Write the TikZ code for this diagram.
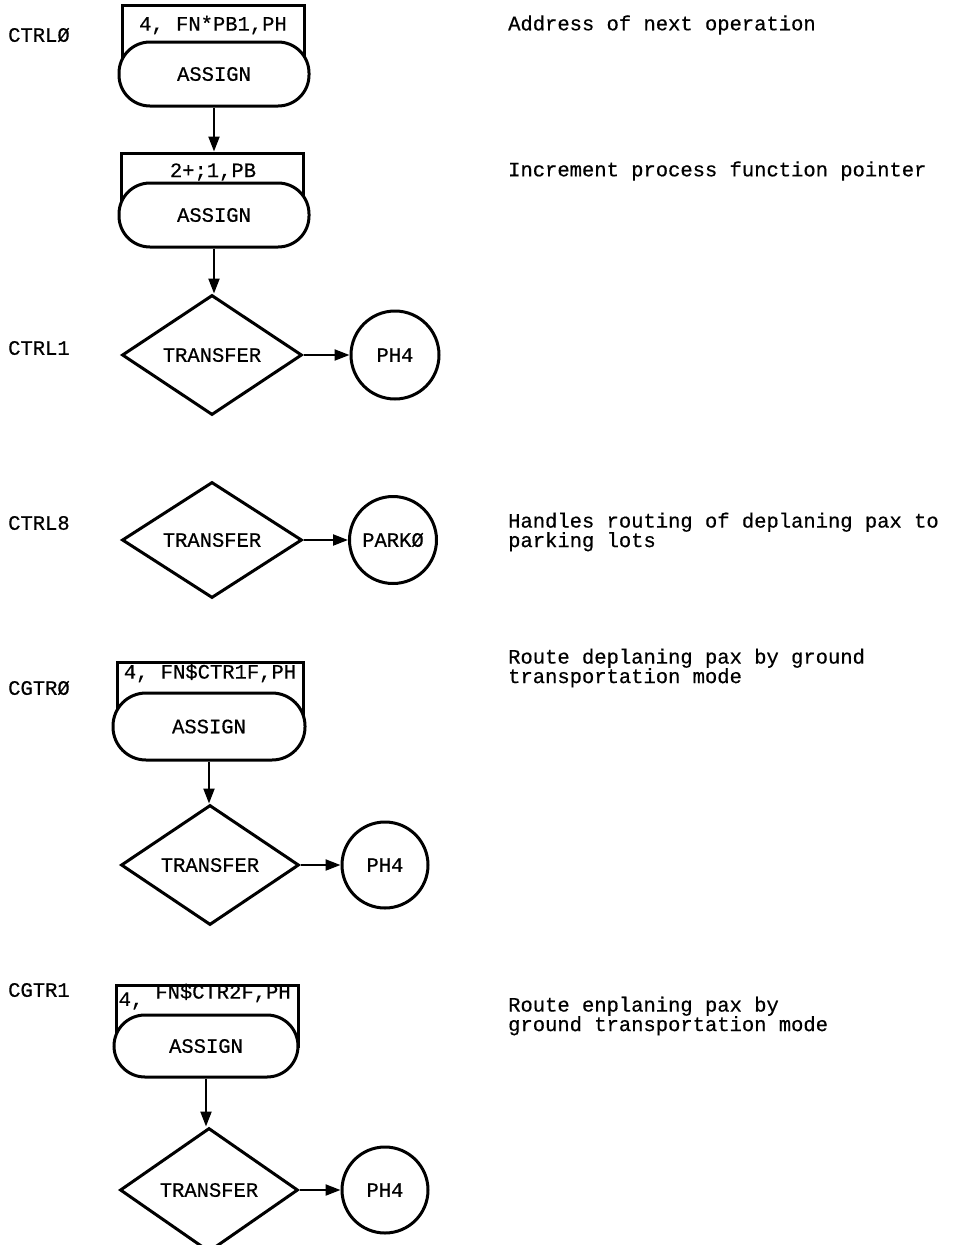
\documentclass[tikz,border=0pt]{standalone}
\usepackage{fontspec}
\setmainfont{Liberation Mono}
\setmonofont{Liberation Mono}
\newfontfamily\courfont[FakeBold=0.5]{Liberation Mono}
\usetikzlibrary{shapes.geometric,arrows.meta}
\tikzset{
  txt/.style={inner sep=0pt, font=\courfont\fontsize{20.5}{19.5}\selectfont},
  lbl/.style={txt, anchor=west},
  note/.style={txt, anchor=west, align=left},
  boxr/.style={draw, line width=3pt, inner sep=0pt, minimum width=#1},
  stad/.style={draw, fill=white, line width=3pt, inner sep=0pt, txt, rounded corners=31pt},
  dia/.style={diamond, draw, line width=3pt, inner sep=0pt, txt},
  circ/.style={circle, draw, line width=3pt, inner sep=0pt, txt},
  arr/.style={line width=2.2pt, -{Triangle[length=15pt,width=11pt]}}
}
\begin{document}
\begin{tikzpicture}[x=1pt,y=-1pt]
\useasboundingbox (0,0) rectangle (954,1245);
% left labels
\node[lbl] (lab0) at (8,35) {CTRLØ};
\node[lbl] (lab1) at (8,348) {CTRL1};
\node[lbl] (lab8) at (8,523) {CTRL8};
\node[lbl] (labg0) at (8,688) {CGTRØ};
\node[lbl] (labg1) at (8,990) {CGTR1};
% right notes
\node[note] (n1) at (508,25) {Address of next operation};
\node[note] (n2) at (508,171) {Increment process function pointer};
\node[note] (n3) at (508,532) {Handles routing of deplaning pax to\\parking lots};
\node[note] (n4) at (508,668) {Route deplaning pax by ground\\transportation mode};
\node[note] (n5) at (508,1016) {Route enplaning pax by\\ground transportation mode};

% Block CTRL0
\node[boxr=182pt, minimum height=70pt] (r1) at (213,40) {};
\node[txt] (t1) at (213,25) {4, FN*PB1,PH};
\node[stad, minimum width=190pt, minimum height=64pt] (s1) at (214,74) {ASSIGN};
% Block 2
\node[boxr=182pt, minimum height=70pt] (r2) at (212,188) {};
\node[txt] (t2) at (213,172) {2+;1,PB};
\node[stad, minimum width=190pt, minimum height=64pt] (s2) at (214,215) {ASSIGN};
\draw[arr] (s1.south) -- (s1.south |- r2.north);
% CTRL1
\node[dia, minimum width=180pt, minimum height=120pt] (d1) at (212,355) {TRANSFER};
\node[circ, minimum size=88pt] (c1) at (395,355) {PH4};
\draw[arr] (s2.south) -- (s2.south |- d1.north);
\draw[arr] (d1.east) -- (c1.west);
% CTRL8
\node[dia, minimum width=180pt, minimum height=116pt] (d2) at (212,540) {TRANSFER};
\node[circ, minimum size=87pt] (c2) at (393,540) {PARKØ};
\draw[arr] (d2.east) -- (c2.west);
% CGTR0
\node[boxr=186pt, minimum height=70pt] (r3) at (210,697) {};
\node[txt] (t3) at (210,673) {4, FN\$CTR1F,PH};
\node[stad, minimum width=192pt, minimum height=67pt, rounded corners=33pt] (s3) at (209,726.5) {ASSIGN};
\node[dia, minimum width=178pt, minimum height=120pt] (d3) at (210,865) {TRANSFER};
\node[circ, minimum size=86pt] (c3) at (385,865) {PH4};
\draw[arr] (s3.south) -- (s3.south |- d3.north);
\draw[arr] (d3.east) -- (c3.west);
% CGTR1
\node[boxr=182pt, minimum height=61pt] (r4) at (207,1015.5) {};
\node[txt] (t4) at (223,993) {FN\$CTR2F,PH};
\node[txt] (t4b) at (131,1001) {4,};
\node[stad, minimum width=184pt, minimum height=62pt] (s4) at (206,1046) {ASSIGN};
\node[dia, minimum width=178pt, minimum height=124pt] (d4) at (209,1190) {TRANSFER};
\node[circ, minimum size=86pt] (c4) at (385,1190) {PH4};
\draw[arr] (s4.south) -- (s4.south |- d4.north);
\draw[arr] (d4.east) -- (c4.west);
\end{tikzpicture}
\end{document}
